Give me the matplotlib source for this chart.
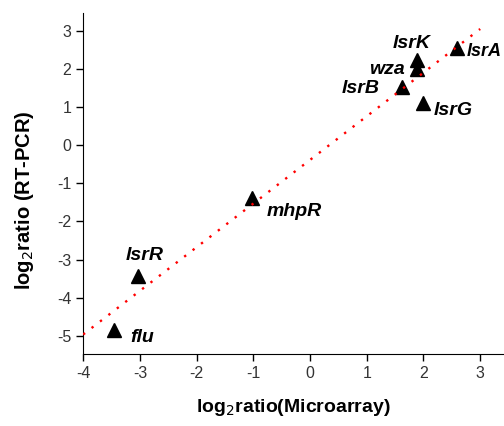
import numpy as np
import matplotlib.pyplot as plt

plt.rcParams['font.family'] = ['Liberation Sans', 'DejaVu Sans']
plt.rcParams['axes.unicode_minus'] = False

# gene names and log2 ratios
genes = ['lsrA', 'lsrK', 'wza', 'lsrB', 'lsrG', 'mhpR', 'lsrR', 'flu']
microarray = [2.60, 1.88, 1.88, 1.62, 2.00, -1.02, -3.03, -3.45]
rtpcr = [2.55, 2.25, 2.00, 1.53, 1.11, -1.38, -3.43, -4.85]

xticks = [-4, -3, -2, -1, 0, 1, 2, 3]
yticks = [-5, -4, -3, -2, -1, 0, 1, 2, 3]

# label offsets in pixels (dx, dy, ha)
offsets = {
    'lsrA': (9, -3, 'left'),
    'lsrK': (-5, 16, 'center'),
    'wza': (-12, 0, 'right'),
    'lsrB': (-22, -1, 'right'),
    'lsrG': (10, -7, 'left'),
    'mhpR': (14, -14, 'left'),
    'lsrR': (6, 20, 'center'),
    'flu': (16, -7, 'left'),
}

fig = plt.figure(figsize=(5.04, 4.26), dpi=100)
ax = fig.add_axes([0.165, 0.169, 0.835, 0.80])

ax.plot(microarray, rtpcr, '^', color='black', markersize=10, zorder=2)

# linear fit, drawn over the markers as in the original
slope, icept = np.polyfit(microarray, rtpcr, 1)
xs = np.array([-4, 3])
ax.plot(xs, slope * xs + icept, linestyle=(0, (1, 3.5)), color='red', lw=1.7, zorder=3)

for g, x, y in zip(genes, microarray, rtpcr):
    dx, dy, ha = offsets[g]
    fs = 13 if g == 'lsrA' else 14
    ax.annotate(g, (x, y), xytext=(dx, dy), textcoords='offset pixels',
                ha=ha, va='center', fontsize=fs, fontweight='bold', style='italic')

ax.set_xlim(-4, 3.42)
ax.set_ylim(-5.48, 3.47)
ax.set_xticks(xticks)
ax.set_yticks(yticks)
ax.tick_params(direction='out', length=5, width=1, labelsize=11.5, labelcolor='#333333')
ax.spines['top'].set_visible(False)
ax.spines['right'].set_visible(False)

ax.set_xlabel(r'log$_2$ratio(Microarray)', fontsize=14, fontweight='bold', labelpad=12)
ax.set_ylabel(r'log$_2$ratio (RT-PCR)', fontsize=14.5, fontweight='bold')
ax.yaxis.set_label_coords(-0.113, 0.45)

fig.savefig('out.png', dpi=100)
